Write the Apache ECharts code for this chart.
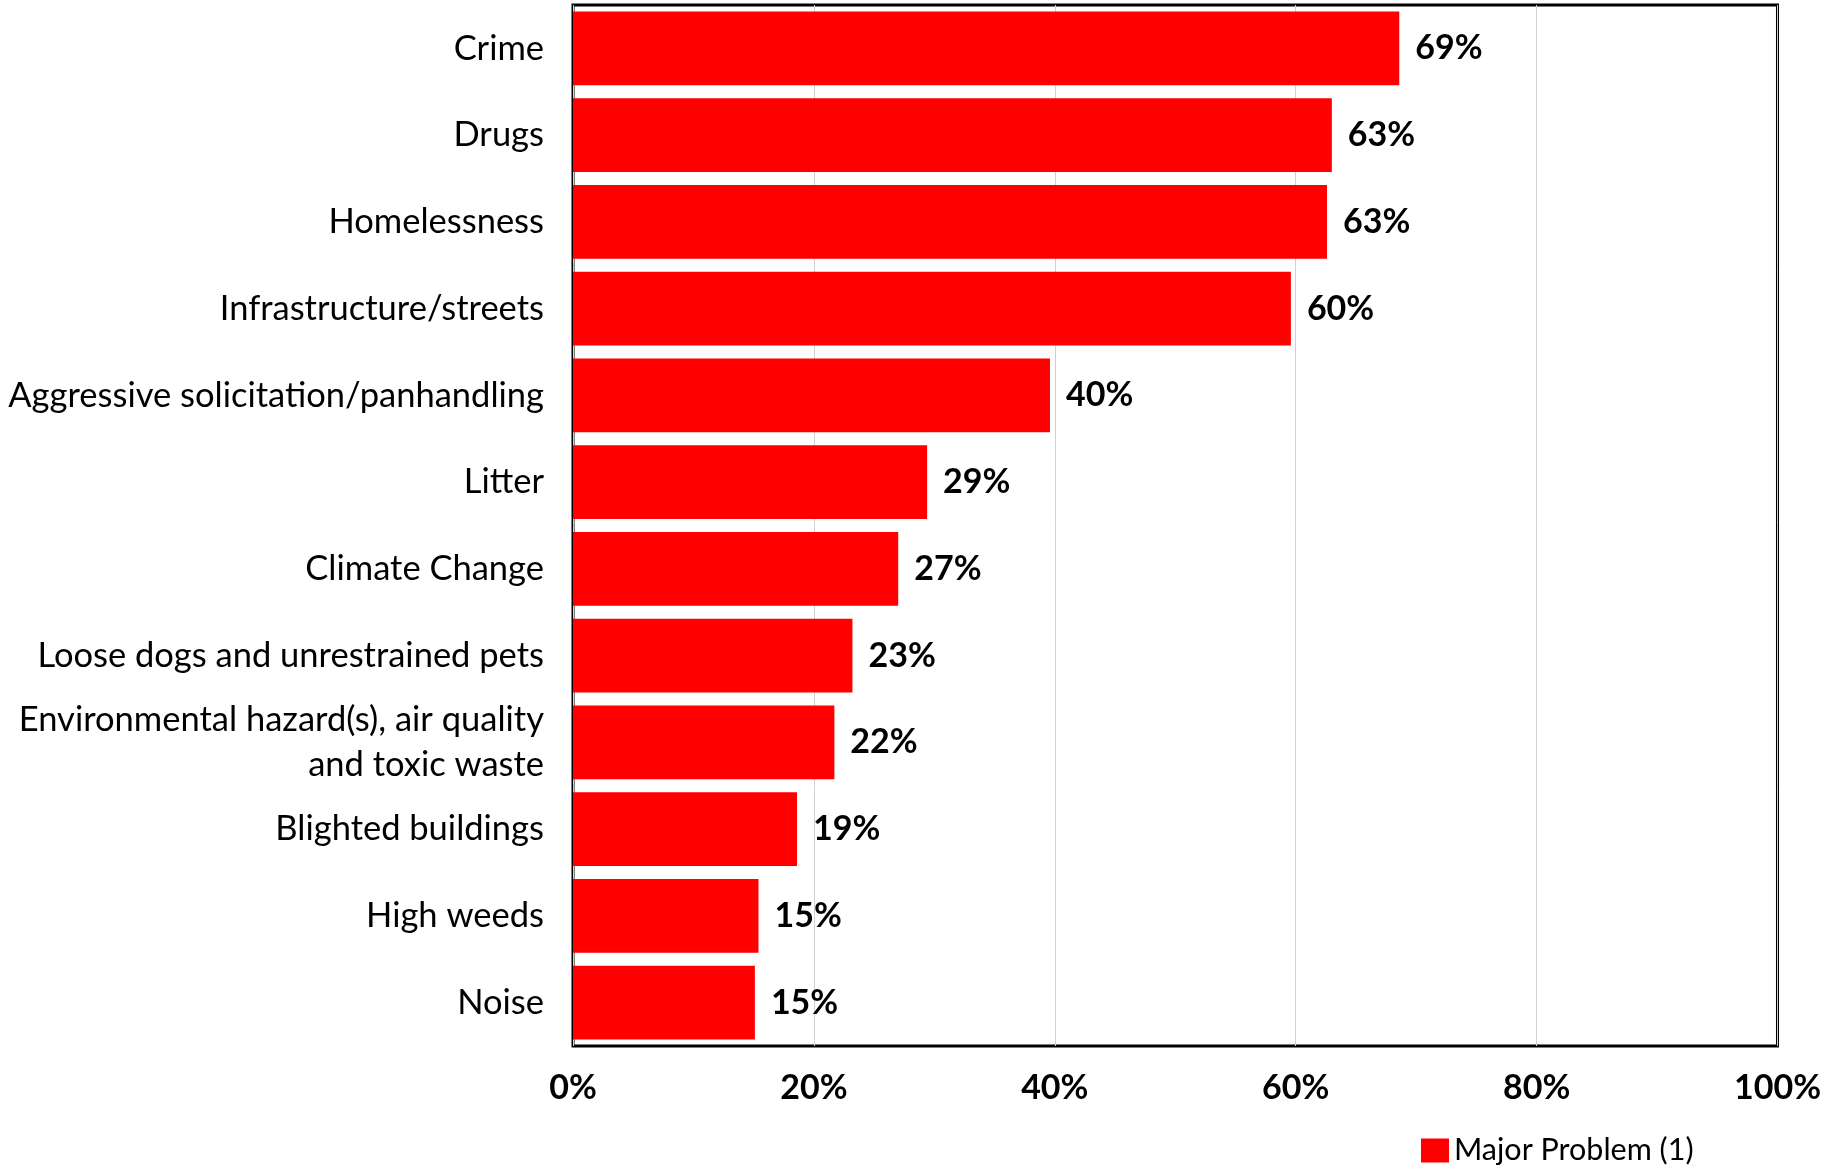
<!DOCTYPE html>
<html>
<head>
<meta charset="utf-8">
<script src="https://cdn.jsdelivr.net/npm/echarts@6/dist/echarts.min.js"></script>
<style>
  html, body { margin: 0; padding: 0; background: #fff; }
  #chart { width: 1824px; height: 1165px; }
</style>
</head>
<body>
<div id="chart"></div>
<script>
// Share of respondents rating each issue a major problem (%)
const categories = [
  'Crime',
  'Drugs',
  'Homelessness',
  'Infrastructure/streets',
  'Aggressive solicitation/panhandling',
  'Litter',
  'Climate Change',
  'Loose dogs and unrestrained pets',
  'Environmental hazard(s), air quality\nand toxic waste',
  'Blighted buildings',
  'High weeds',
  'Noise'
];
const majorProblem = [68.6, 63.0, 62.6, 59.6, 39.6, 29.4, 27.0, 23.2, 21.7, 18.6, 15.4, 15.1];
const seriesName = 'Major Problem (1)';

const FONT = 'Lato, "Open Sans", sans-serif';

const chart = echarts.init(document.getElementById('chart'), null, { renderer: 'canvas' });
chart.setOption({
  animation: false,
  backgroundColor: '#ffffff',
  grid: {
    left: 573,
    right: 46,
    top: 5,
    bottom: 119,
    show: true,
    borderColor: '#000000',
    borderWidth: 3,
    backgroundColor: 'transparent'
  },
  legend: {
    data: [seriesName],
    left: 1421,
    top: 1135,
    padding: 0,
    itemWidth: 28,
    itemHeight: 24,
    itemGap: 6,
    textStyle: { fontFamily: FONT, fontSize: 30.5, color: '#000' },
    icon: 'rect'
  },
  xAxis: {
    type: 'value',
    min: 0,
    max: 100,
    interval: 20,
    axisLine: { show: false },
    axisTick: { show: false },
    splitLine: { show: true, lineStyle: { color: '#d0d0d0', width: 1 } },
    axisLabel: {
      formatter: v => v + '%',
      fontFamily: FONT,
      fontWeight: 'bold',
      fontSize: 34,
      color: '#000',
      margin: 25
    }
  },
  yAxis: {
    type: 'category',
    inverse: true,
    data: categories,
    axisLine: { show: false },
    axisTick: { show: false },
    axisLabel: {
      fontFamily: FONT,
      fontSize: 34.5,
      color: '#000',
      margin: 29,
      lineHeight: 45,
      align: 'right'
    }
  },
  series: [{
    name: seriesName,
    type: 'bar',
    data: majorProblem,
    barCategoryGap: '15%',
    itemStyle: { color: '#ff0000' },
    label: {
      show: true,
      position: 'right',
      distance: 16,
      formatter: p => Math.round(p.value) + '%',
      fontFamily: FONT,
      fontWeight: 'bold',
      fontSize: 34,
      color: '#000'
    }
  }]
});
</script>
</body>
</html>
